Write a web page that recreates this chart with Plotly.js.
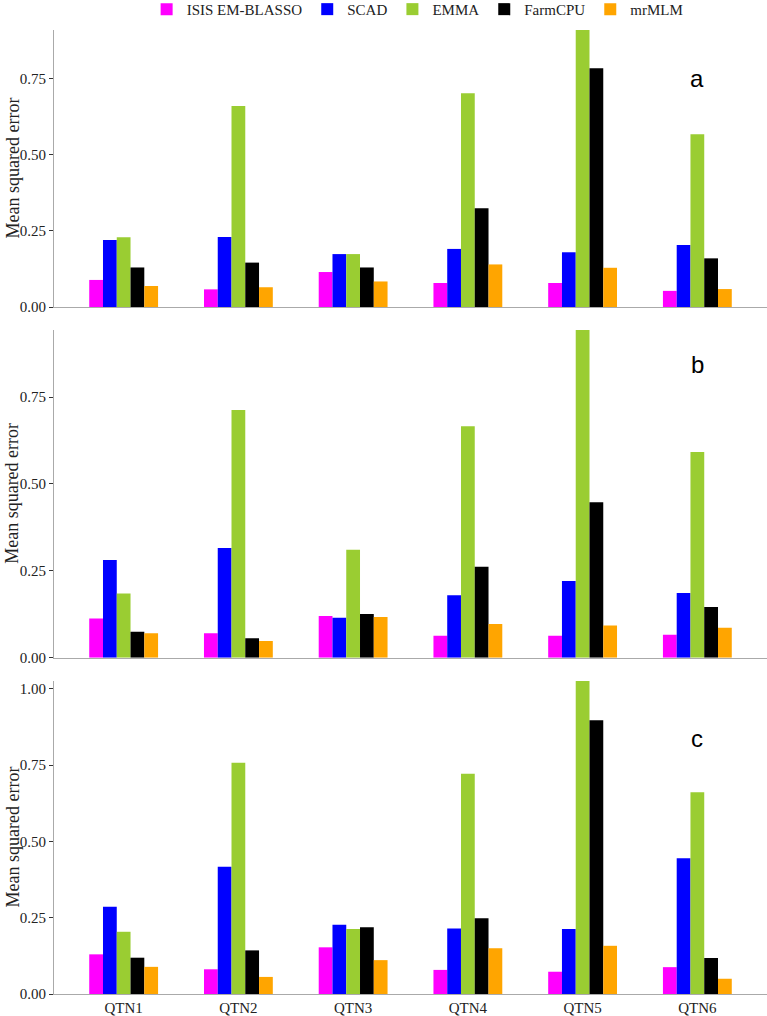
<!DOCTYPE html>
<html>
<head>
<meta charset="utf-8">
<script src="https://cdn.plot.ly/plotly-3.0.1.min.js"></script>
<style>html,body{margin:0;padding:0;background:#fff;}#chart{width:767px;height:1016px;}</style>
</head>
<body>
<div id="chart"></div>
<script>
const categories = ["QTN1","QTN2","QTN3","QTN4","QTN5","QTN6"];
const methods = ["ISIS EM-BLASSO","SCAD","EMMA","FarmCPU","mrMLM"];
const colors = ["#FF00FF","#0000FF","#9ACD32","#000000","#FFA500"];
const panelLetters = ["a","b","c"];

// Panel a
const a_ISIS    = [0.089, 0.058, 0.115, 0.079, 0.079, 0.053];
const a_SCAD    = [0.220, 0.230, 0.174, 0.191, 0.180, 0.204];
const a_EMMA    = [0.229, 0.661, 0.174, 0.703, 0.911, 0.568];
const a_FarmCPU = [0.130, 0.146, 0.130, 0.325, 0.785, 0.160];
const a_mrMLM   = [0.069, 0.065, 0.084, 0.140, 0.129, 0.059];
// Panel b
const b_ISIS    = [0.113, 0.070, 0.120, 0.063, 0.063, 0.066];
const b_SCAD    = [0.281, 0.316, 0.115, 0.180, 0.221, 0.186];
const b_EMMA    = [0.185, 0.713, 0.311, 0.666, 0.943, 0.592];
const b_FarmCPU = [0.075, 0.056, 0.126, 0.262, 0.447, 0.146];
const b_mrMLM   = [0.070, 0.048, 0.117, 0.097, 0.093, 0.086];
// Panel c
const c_ISIS    = [0.130, 0.081, 0.153, 0.079, 0.073, 0.088];
const c_SCAD    = [0.286, 0.417, 0.227, 0.215, 0.213, 0.445];
const c_EMMA    = [0.204, 0.758, 0.213, 0.722, 1.026, 0.661];
const c_FarmCPU = [0.119, 0.143, 0.219, 0.248, 0.897, 0.118];
const c_mrMLM   = [0.089, 0.056, 0.111, 0.150, 0.158, 0.050];

const panels = [
  [a_ISIS, a_SCAD, a_EMMA, a_FarmCPU, a_mrMLM],
  [b_ISIS, b_SCAD, b_EMMA, b_FarmCPU, b_mrMLM],
  [c_ISIS, c_SCAD, c_EMMA, c_FarmCPU, c_mrMLM]
];
const yMax = [0.911, 0.943, 1.026];
const letterY = [0.753, 0.843, 0.839];

const H = 1016;
const domains = [
  [1 - 307/H, 1 - 30/H],
  [1 - 657.7/H, 1 - 330/H],
  [1 - 994/H, 1 - 681/H]
];

const traces = [];
panels.forEach((series, p) => {
  series.forEach((vals, i) => {
    traces.push({
      type: "bar",
      x: categories,
      y: vals,
      name: methods[i],
      marker: {color: colors[i], line: {width: 0}},
      xaxis: p === 0 ? "x" : "x" + (p + 1),
      yaxis: p === 0 ? "y" : "y" + (p + 1),
      showlegend: p === 0,
      legendgroup: methods[i],
      hoverinfo: "skip"
    });
  });
});

const serif = "Liberation Serif, Times New Roman, serif";
const layout = {
  width: 767, height: 1016,
  margin: {l: 54, r: 0, t: 0, b: 0, autoexpand: false},
  paper_bgcolor: "#fff", plot_bgcolor: "#fff",
  barmode: "group", bargap: 0.4, bargroupgap: 0,
  font: {family: serif, size: 14, color: "#222"},
  showlegend: true,
  legend: {orientation: "h", x: 0.51, xanchor: "center", y: 1.007, yanchor: "top",
           font: {family: serif, size: 15, color: "#222"}, itemwidth: 30, tracegroupgap: 0,
           traceorder: "normal"},
  annotations: []
};

for (let p = 0; p < 3; p++) {
  const xk = p === 0 ? "xaxis" : "xaxis" + (p + 1);
  const yk = p === 0 ? "yaxis" : "yaxis" + (p + 1);
  const yref = p === 0 ? "y" : "y" + (p + 1);
  const xref = p === 0 ? "x" : "x" + (p + 1);
  layout[xk] = {
    domain: [0, 1], anchor: yref, type: "category",
    range: [-0.607, 5.607],
    showline: true, linecolor: "#aaaaaa", linewidth: 1,
    showgrid: false, zeroline: false, ticks: "",
    showticklabels: p === 2, automargin: false,
    tickfont: {family: serif, size: 15, color: "#222"}
  };
  const tv = p === 2 ? [0, 0.25, 0.5, 0.75, 1.0] : [0, 0.25, 0.5, 0.75];
  layout[yk] = {
    domain: domains[p], anchor: xref,
    range: [0, yMax[p]],
    showline: true, linecolor: "#aaaaaa", linewidth: 1,
    showgrid: false, zeroline: false, automargin: false,
    ticks: "outside", ticklen: 4, tickwidth: 1, tickcolor: "#333",
    tickvals: tv, ticktext: tv.map(v => v.toFixed(2)),
    tickfont: {family: serif, size: 15, color: "#222"}
  };
  layout.annotations.push({
    text: "Mean squared error", xref: "paper", yref: "paper",
    x: 0, xshift: -42, y: (domains[p][0] + domains[p][1]) / 2,
    textangle: -90, showarrow: false, xanchor: "center", yanchor: "middle",
    font: {family: serif, size: 18, color: "#222"}
  });
  layout.annotations.push({
    text: panelLetters[p], xref: xref, yref: yref,
    x: "QTN6", y: letterY[p], showarrow: false,
    font: {family: "Liberation Sans, Arial, sans-serif", size: 24, color: "#000"}
  });
}

Plotly.newPlot("chart", traces, layout, {displayModeBar: false, staticPlot: true});
</script>
</body>
</html>
